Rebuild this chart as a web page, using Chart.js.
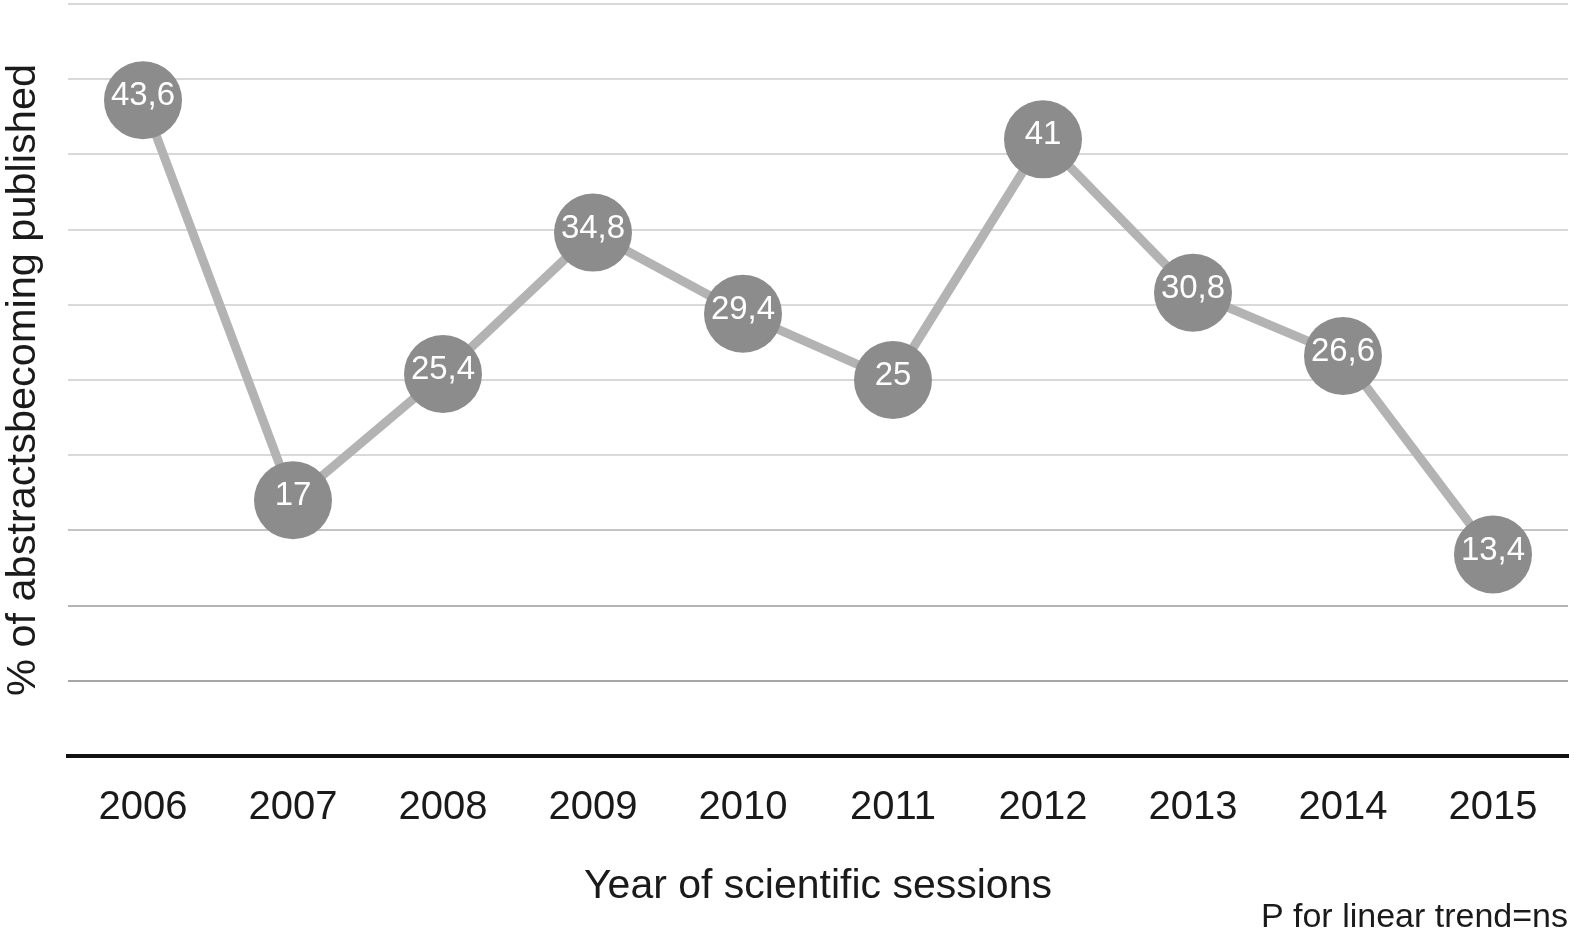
<!DOCTYPE html>
<html>
<head>
<meta charset="utf-8">
<script src="https://cdn.jsdelivr.net/npm/chart.js@4"></script>
<style>
  html, body { margin: 0; padding: 0; background: #fff; overflow: hidden; }
  #wrap { position: relative; width: 1577px; height: 935px; }
  canvas { display: block; }
</style>
</head>
<body>
<div id="wrap"><canvas id="chart"></canvas></div>
<script>
// Data
const years = ['2006', '2007', '2008', '2009', '2010', '2011', '2012', '2013', '2014', '2015'];
const pctPublished = [43.6, 17, 25.4, 34.8, 29.4, 25, 41, 30.8, 26.6, 13.4];
const labelText = ['43,6', '17', '25,4', '34,8', '29,4', '25', '41', '30,8', '26,6', '13,4'];

// Draws the value inside each marker
const pointLabels = {
    id: 'pointLabels',
    afterDatasetsDraw(chart) {
        const ctx = chart.ctx;
        const meta = chart.getDatasetMeta(0);
        ctx.save();
        ctx.fillStyle = '#ffffff';
        ctx.font = '33px "Liberation Sans", Arial, sans-serif';
        ctx.textAlign = 'center';
        ctx.textBaseline = 'middle';
        meta.data.forEach((pt, i) => {
            ctx.fillText(labelText[i], pt.x, pt.y - 4);
        });
        ctx.restore();
    }
};

// Gridlines get darker towards the bottom
function gridColor(ctx) {
    const v = ctx.tick ? ctx.tick.value : 50;
    if (v <= 5) return '#a6a6a6';
    if (v <= 10) return '#b4b4b4';
    if (v <= 15) return '#c4c4c4';
    return '#d9d9d9';
}

const ctx = document.getElementById('chart').getContext('2d');
const chart = new Chart(ctx, {
    type: 'line',
    data: {
        labels: years,
        datasets: [{
            data: pctPublished,
            borderColor: '#b3b3b3',
            borderWidth: 9,
            backgroundColor: '#8c8c8c',
            pointBackgroundColor: '#8c8c8c',
            pointBorderColor: '#8c8c8c',
            pointBorderWidth: 0,
            pointRadius: 39,
            pointHoverRadius: 39,
            tension: 0,
            fill: false,
            clip: false
        }]
    },
    options: {
        responsive: true,
        maintainAspectRatio: false,
        animation: false,
        layout: { autoPadding: false, padding: { top: 4, right: 9, bottom: 0, left: 0 } },
        plugins: {
            legend: { display: false },
            tooltip: { enabled: false },
            subtitle: {
                display: true,
                position: 'bottom',
                align: 'end',
                text: 'P for linear trend=ns',
                color: '#1a1a1a',
                font: { family: '"Liberation Sans", Arial, sans-serif', size: 34, weight: 'normal', lineHeight: 1.05 },
                padding: { top: 0, bottom: 0 }
            }
        },
        scales: {
            x: {
                offset: true,
                grid: { display: false, drawTicks: false },
                border: { display: true, color: '#111111', width: 4 },
                ticks: {
                    color: '#1a1a1a',
                    padding: 28,
                    maxRotation: 0,
                    font: { family: '"Liberation Sans", Arial, sans-serif', size: 40 }
                },
                title: {
                    display: true,
                    text: 'Year of scientific sessions',
                    color: '#1a1a1a',
                    padding: 0,
                    font: { family: '"Liberation Sans", Arial, sans-serif', size: 41, lineHeight: 0.6 }
                },
                afterFit(scale) { scale.height = 143.3; }
            },
            y: {
                min: 0,
                max: 50,
                grid: { color: gridColor, lineWidth: 2, drawTicks: false },
                border: { display: false },
                ticks: { display: false, stepSize: 5 },
                title: {
                    display: true,
                    text: '% of abstractsbecoming published',
                    color: '#1a1a1a',
                    padding: 0,
                    font: { family: '"Liberation Sans", Arial, sans-serif', size: 41.5, lineHeight: 1.15 }
                },
                afterFit(scale) { scale.width = 68; }
            }
        }
    },
    plugins: [pointLabels]
});
</script>
</body>
</html>
